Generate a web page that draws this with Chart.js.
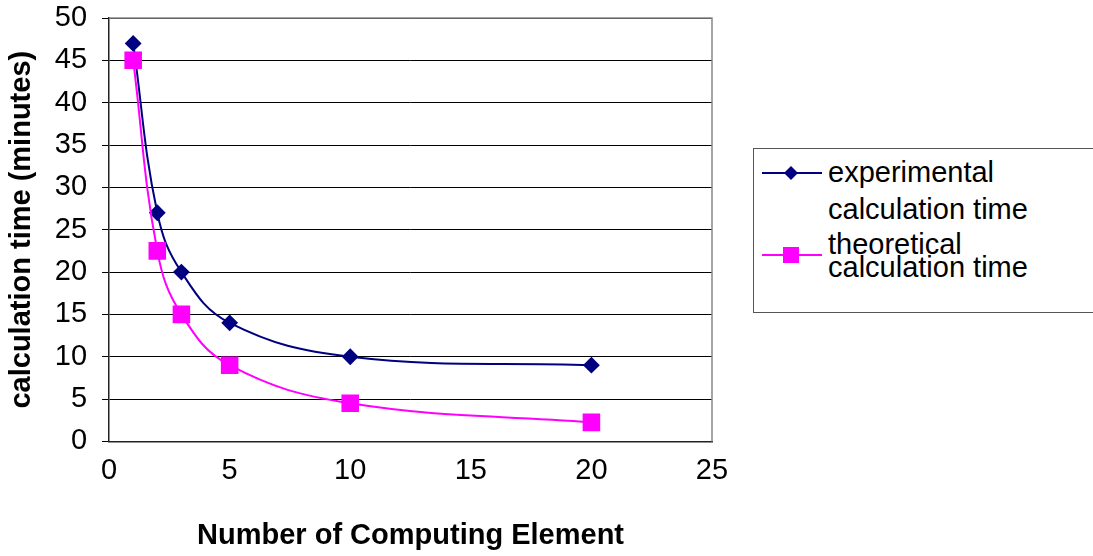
<!DOCTYPE html>
<html>
<head>
<meta charset="utf-8">
<script src="https://cdn.jsdelivr.net/npm/chart.js@4/dist/chart.umd.min.js"></script>
<style>
  body { margin: 0; background: #fff; }
  #wrap { position: relative; width: 1093px; height: 556px; overflow: hidden; }
  #box { position: absolute; left: 0; top: 0; width: 735px; height: 556px; }
  #legend {
    position: absolute; left: 753px; top: 148px; width: 360px; height: 165px;
    border: 1.5px solid #555; box-sizing: border-box;
    font-family: "Liberation Sans", Arial, sans-serif; font-size: 29px; color: #000;
  }
  .item { position: absolute; left: 8px; }
  .item svg { position: absolute; left: 0; }
  .item span { position: absolute; left: 66px; white-space: nowrap; }
</style>
</head>
<body>
<div id="wrap">
  <div id="box"><canvas id="chart"></canvas></div>
  <div id="legend">
    <div class="item" style="top:0">
      <svg style="top:12px" width="60" height="24"><line x1="0" y1="12" x2="60" y2="12" stroke="#000080" stroke-width="2"/><polygon points="29,5 36,12 29,19 22,12" fill="#000080"/></svg>
      <span style="top:5px; line-height:37px">experimental<br>calculation time</span>
    </div>
    <div class="item" style="top:0">
      <svg style="top:94px" width="60" height="24"><line x1="0" y1="12" x2="60" y2="12" stroke="#ff00ff" stroke-width="2"/><rect x="21" y="4" width="16" height="16" fill="#ff00ff"/></svg>
      <span style="top:84px; line-height:23px">theoretical<br>calculation time</span>
    </div>
  </div>
</div>
<script>
const elements = [1, 2, 3, 5, 10, 20];
const experimental = [47, 27, 20, 14, 10, 9];
const theoretical = [45, 22.5, 15, 9, 4.5, 2.25];
const xTicks = [0, 5, 10, 15, 20, 25];
const yTicks = [0, 5, 10, 15, 20, 25, 30, 35, 40, 45, 50];

const toPoints = (ys) => elements.map((x, i) => ({ x: x, y: ys[i] }));
const font = { family: "'Liberation Sans', Arial, sans-serif", size: 29 };
const titleFont = { family: "'Liberation Sans', Arial, sans-serif", size: 29, weight: "bold" };

new Chart(document.getElementById("chart"), {
    type: "scatter",
    data: {
        datasets: [
            {
                label: "experimental calculation time",
                data: toPoints(experimental),
                showLine: true,
                borderColor: "#000080",
                backgroundColor: "#000080",
                borderWidth: 2,
                pointStyle: "rectRot",
                pointRadius: 7,
                pointHoverRadius: 7,
                tension: 0.4,
                order: 1,
            },
            {
                label: "theoretical calculation time",
                data: toPoints(theoretical),
                showLine: true,
                borderColor: "#ff00ff",
                backgroundColor: "#ff00ff",
                borderWidth: 2,
                pointStyle: "rect",
                pointRadius: 11,
                pointHoverRadius: 11,
                tension: 0.4,
                order: 0,
            },
        ],
    },
    options: {
        responsive: true,
        maintainAspectRatio: false,
        animation: false,
        layout: { padding: { top: 0, right: 0, left: 4, bottom: 3 } },
        plugins: {
            legend: { display: false },
            tooltip: { enabled: false },
        },
        scales: {
            x: {
                type: "linear",
                min: 0,
                max: 25,
                afterBuildTicks: (axis) => { axis.ticks = xTicks.map((v) => ({ value: v })); },
                afterFit: (axis) => { axis.paddingRight = 23; },
                ticks: { color: "#000", font: font, padding: 5 },
                grid: { display: false, drawOnChartArea: false, tickLength: 7, tickColor: "#000" },
                border: { color: "#222", width: 1.5 },
                title: {
                    display: true,
                    text: "Number of Computing Element",
                    color: "#000",
                    font: titleFont,
                    padding: { top: 25, bottom: 0 },
                },
            },
            y: {
                min: 0,
                max: 50,
                afterBuildTicks: (axis) => { axis.ticks = yTicks.map((v) => ({ value: v })); },
                afterFit: (axis) => { axis.paddingTop = 18; },
                ticks: { color: "#000", font: font, padding: 15 },
                grid: { color: "#000", lineWidth: 1, tickLength: 7, tickColor: "#000" },
                border: { color: "#222", width: 1.5 },
                title: {
                    display: true,
                    text: "calculation time (minutes)",
                    color: "#000",
                    font: titleFont,
                    padding: { top: 1, bottom: 0 },
                },
            },
        },
    },
    plugins: [{
        id: "frame",
        beforeDatasetsDraw(chart) {
            const { ctx, chartArea: a } = chart;
            ctx.save();
            ctx.strokeStyle = "#888";
            ctx.lineWidth = 1.5;
            ctx.beginPath();
            ctx.moveTo(a.left, a.top);
            ctx.lineTo(a.right, a.top);
            ctx.lineTo(a.right, a.bottom);
            ctx.stroke();
            ctx.restore();
        },
    }],
});
</script>
</body>
</html>
